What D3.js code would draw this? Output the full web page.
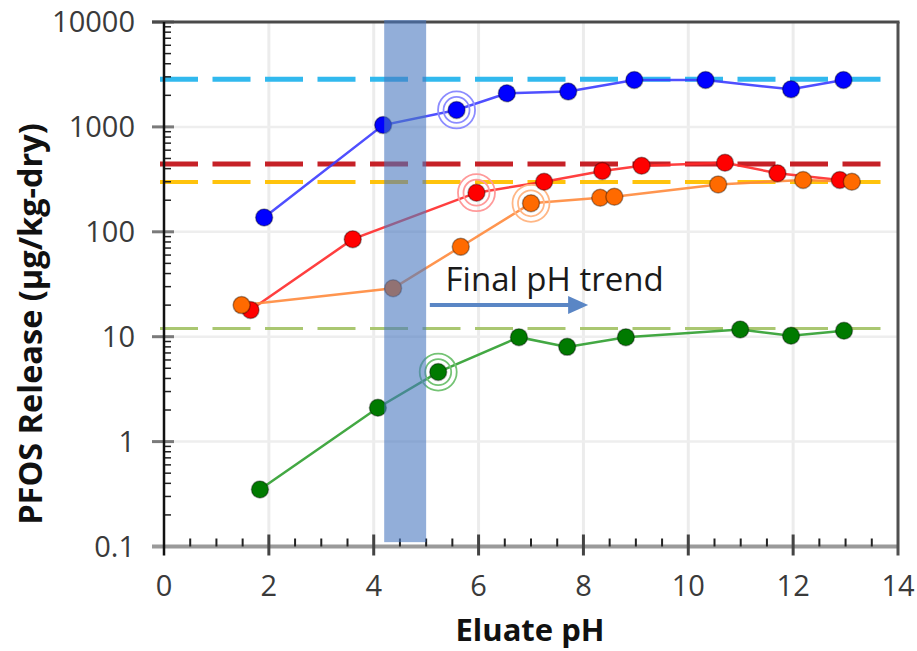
<!DOCTYPE html>
<html>
<head>
<meta charset="utf-8">
<script src="https://cdn.jsdelivr.net/npm/d3@7"></script>
<style>
  body { margin: 0; background: #fff; }
  svg { display: block; font-family: "Open Sans", sans-serif; }
  .tick-label { font-size: 29px; fill: #3a3a3a; }
  .axis-title { font-size: 31px; font-weight: bold; fill: #111; }
  .y-title { font-size: 32.5px; }
  .trend-label { font-size: 33px; fill: #1a1a1a; }
</style>
</head>
<body>
<div id="chart"></div>
<script>
"use strict";

// eluate pH / PFOS release (ug/kg-dry)
var blueX   = [1.91, 4.18, 5.58, 6.54, 7.71, 8.97, 10.33, 11.96, 12.96];
var blueY   = [137, 1040, 1450, 2090, 2170, 2800, 2800, 2280, 2800];

var redX    = [1.65, 3.60, 5.96, 7.25, 8.36, 9.11, 10.70, 11.70, 12.89];
var redY    = [18, 85, 236, 300, 380, 427, 456, 361, 312];

var orangeX = [1.48, 4.37, 5.66, 7.00, 8.32, 8.59, 10.57, 12.19, 13.12];
var orangeY = [20, 29, 72, 187, 211, 216, 283, 312, 300];

var greenX  = [1.83, 4.08, 5.23, 6.77, 7.69, 8.81, 10.99, 11.96, 12.97];
var greenY  = [0.35, 2.1, 4.6, 9.9, 8.0, 9.9, 11.7, 10.2, 11.4];

// circled point in each series (index)
var circled = [2, 2, 3, 2];

// dashed reference levels (total PFOS)
var refLevels = [2850, 443, 298, 12];

var xTicks = [0, 2, 4, 6, 8, 10, 12, 14];
var yTicks = [0.1, 1, 10, 100, 1000, 10000];
var yTickLabels = ["0.1", "1", "10", "100", "1000", "10000"];

// shaded pH band and the trend arrow
var bandRange  = [4.2, 5.0];
var bandBottom = 0.11;
var trendArrow = [5.07, 8.09];
var trendLevel = 20;
var trendText  = "Final pH trend";
var trendTextAt = [5.37, 27.3];

var width  = 917;
var height = 651;

var series = [
  { x: blueX,   y: blueY,   fill: "#0000ff", line: "#3c3cff", ring: "#8c8cff" },
  { x: redX,    y: redY,    fill: "#ff0000", line: "#ff2a2a", ring: "#ff9a9a" },
  { x: orangeX, y: orangeY, fill: "#ff6a00", line: "#ff8a3c", ring: "#ffb786" },
  { x: greenX,  y: greenY,  fill: "#007a00", line: "#2f9e2f", ring: "#74c374" }
];

var refStyles = [
  { color: "#27b6ee", w: 5 },
  { color: "#c4161c", w: 5 },
  { color: "#ffc000", w: 4 },
  { color: "#a6c56a", w: 3 }
];

var x = d3.scaleLinear().domain([0, 14]).range([164, 898]);
var y = d3.scaleLog().domain([0.1, 10000]).range([546.5, 22]);

var svg = d3.select("#chart").append("svg")
  .attr("width", width)
  .attr("height", height);

svg.append("rect")
  .attr("width", width)
  .attr("height", height)
  .attr("fill", "#fff");

// gridlines
svg.selectAll(".vgrid")
  .data(xTicks.slice(1, -1))
  .enter().append("line")
  .attr("x1", function(d) { return x(d); })
  .attr("x2", function(d) { return x(d); })
  .attr("y1", y(10000))
  .attr("y2", y(0.1))
  .attr("stroke", "#ececec")
  .attr("stroke-width", 3);

svg.selectAll(".hgrid")
  .data(yTicks.slice(1, -1))
  .enter().append("line")
  .attr("x1", x(0))
  .attr("x2", x(14))
  .attr("y1", function(d) { return y(d); })
  .attr("y2", function(d) { return y(d); })
  .attr("stroke", "#eeeeee")
  .attr("stroke-width", 2.5);

// dashed reference levels
svg.selectAll(".ref")
  .data(refLevels)
  .enter().append("line")
  .attr("x1", x(0) - 4)
  .attr("x2", x(13.77))
  .attr("y1", function(d) { return y(d); })
  .attr("y2", function(d) { return y(d); })
  .attr("stroke", function(d, i) { return refStyles[i].color; })
  .attr("stroke-width", function(d, i) { return refStyles[i].w; })
  .attr("stroke-dasharray", "38 14.5")
  .attr("opacity", 0.95);

// series lines
var line = d3.line()
  .x(function(d) { return x(d[0]); })
  .y(function(d) { return y(d[1]); });

series.forEach(function(s) {
  s.points = d3.zip(s.x, s.y);
});

svg.selectAll(".series-line")
  .data(series)
  .enter().append("path")
  .attr("d", function(s) { return line(s.points); })
  .attr("fill", "none")
  .attr("stroke", function(s) { return s.line; })
  .attr("stroke-width", 2.5)
  .attr("opacity", 0.9);

// rings round the circled points
series.forEach(function(s, i) {
  var p = s.points[circled[i]];
  [13, 18.5].forEach(function(r) {
    svg.append("circle")
      .attr("cx", x(p[0]))
      .attr("cy", y(p[1]))
      .attr("r", r)
      .attr("fill", "none")
      .attr("stroke", s.ring)
      .attr("stroke-width", 1.8);
  });
});

// markers
series.forEach(function(s) {
  svg.selectAll(null)
    .data(s.points)
    .enter().append("circle")
    .attr("cx", function(d) { return x(d[0]); })
    .attr("cy", function(d) { return y(d[1]); })
    .attr("r", 8.5)
    .attr("fill", s.fill)
    .attr("stroke", "rgba(0,0,0,0.35)")
    .attr("stroke-width", 1.5);
});

// x axis line and ticks
svg.append("line")
  .attr("x1", 152).attr("x2", x(14))
  .attr("y1", y(0.1)).attr("y2", y(0.1))
  .attr("stroke", "#9a9a9a")
  .attr("stroke-width", 4);

svg.selectAll(".xminor")
  .data(d3.range(0.5, 14, 0.5).filter(function(d) { return d % 2 !== 0; }))
  .enter().append("line")
  .attr("x1", function(d) { return x(d); })
  .attr("x2", function(d) { return x(d); })
  .attr("y1", y(0.1) - 8)
  .attr("y2", y(0.1))
  .attr("stroke", "#222")
  .attr("stroke-width", 2);

svg.selectAll(".xmajor")
  .data(xTicks.slice(1, -1))
  .enter().append("line")
  .attr("x1", function(d) { return x(d); })
  .attr("x2", function(d) { return x(d); })
  .attr("y1", y(0.1) - 12)
  .attr("y2", y(0.1) + 9)
  .attr("stroke", "#444")
  .attr("stroke-width", 3);

// y axis ticks
var yMinor = [];
yTicks.slice(0, -1).forEach(function(d) {
  d3.range(2, 10).forEach(function(k) { yMinor.push(d * k); });
});

svg.selectAll(".yminor")
  .data(yMinor)
  .enter().append("line")
  .attr("x1", x(0))
  .attr("x2", x(0) + 7)
  .attr("y1", function(d) { return y(d); })
  .attr("y2", function(d) { return y(d); })
  .attr("stroke", "#222")
  .attr("stroke-width", 1.5);

svg.selectAll(".ymajor")
  .data(yTicks.slice(1))
  .enter().append("line")
  .attr("x1", 152)
  .attr("x2", 174)
  .attr("y1", function(d) { return y(d); })
  .attr("y2", function(d) { return y(d); })
  .attr("stroke", "#7a7a7a")
  .attr("stroke-width", 3);

// frame: top, right, left axis
svg.append("line")
  .attr("x1", 152).attr("x2", x(14) + 1.5)
  .attr("y1", y(10000)).attr("y2", y(10000))
  .attr("stroke", "#4a4a4a")
  .attr("stroke-width", 3);

svg.append("line")
  .attr("x1", x(14)).attr("x2", x(14))
  .attr("y1", y(10000)).attr("y2", y(0.1) + 9)
  .attr("stroke", "#505050")
  .attr("stroke-width", 3);

svg.append("line")
  .attr("x1", x(0)).attr("x2", x(0))
  .attr("y1", y(10000)).attr("y2", y(0.1) + 9)
  .attr("stroke", "#111")
  .attr("stroke-width", 2.5);

// shaded band on top of the data
svg.append("rect")
  .attr("x", x(bandRange[0]))
  .attr("width", x(bandRange[1]) - x(bandRange[0]))
  .attr("y", y(10000) - 2)
  .attr("height", y(bandBottom) - y(10000) + 2)
  .attr("fill", "#4a78c0")
  .attr("opacity", 0.6);

// tick labels
svg.selectAll(".ylabel")
  .data(yTicks)
  .enter().append("text")
  .attr("class", "tick-label")
  .attr("x", 135)
  .attr("y", function(d) { return y(d); })
  .attr("dy", "0.36em")
  .attr("text-anchor", "end")
  .text(function(d, i) { return yTickLabels[i]; });

svg.selectAll(".xlabel")
  .data(xTicks)
  .enter().append("text")
  .attr("class", "tick-label")
  .attr("x", function(d) { return x(d); })
  .attr("y", 586)
  .attr("dy", "0.36em")
  .attr("text-anchor", "middle")
  .text(function(d) { return d; });

// axis titles
svg.append("text")
  .attr("class", "axis-title")
  .attr("x", 530)
  .attr("y", 641)
  .attr("text-anchor", "middle")
  .text("Eluate pH");

svg.append("text")
  .attr("class", "axis-title y-title")
  .attr("transform", "translate(42,324) rotate(-90)")
  .attr("text-anchor", "middle")
  .text("PFOS Release (µg/kg-dry)");

// trend annotation
var arrowY = y(trendLevel);
var tipX = x(trendArrow[1]);

svg.append("line")
  .attr("x1", x(trendArrow[0]))
  .attr("x2", tipX - 18)
  .attr("y1", arrowY)
  .attr("y2", arrowY)
  .attr("stroke", "#5a86c5")
  .attr("stroke-width", 4);

svg.append("path")
  .attr("d", "M" + tipX + "," + arrowY + " L" + (tipX - 20) + "," + (arrowY - 9) +
             " L" + (tipX - 20) + "," + (arrowY + 9) + " Z")
  .attr("fill", "#5a86c5");

svg.append("text")
  .attr("class", "trend-label")
  .attr("x", x(trendTextAt[0]))
  .attr("y", y(trendTextAt[1]))
  .text(trendText);
</script>
</body>
</html>
